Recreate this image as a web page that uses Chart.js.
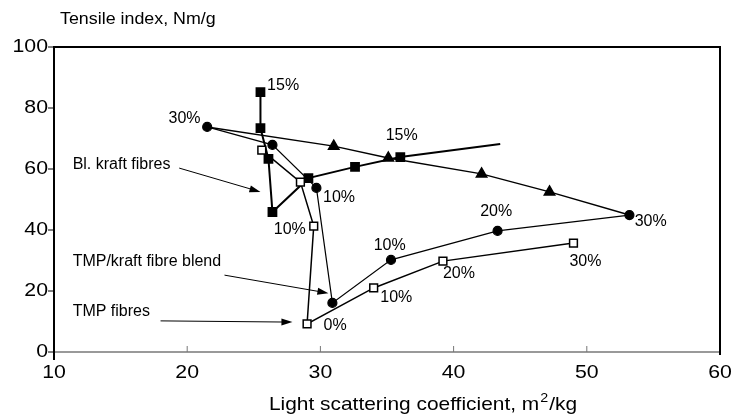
<!DOCTYPE html>
<html>
<head>
<meta charset="utf-8">
<script src="https://cdn.jsdelivr.net/npm/chart.js@4.4.1/dist/chart.umd.min.js"></script>
<style>
  html, body { margin: 0; padding: 0; background: #fff; }
  #wrap { width: 735px; height: 419px; }
</style>
</head>
<body>
<div id="wrap"><canvas id="chart" width="735" height="419"></canvas></div>
<script>
// axis ticks
const xTicks = [10, 20, 30, 40, 50, 60];
const yTicks = [0, 20, 40, 60, 80, 100];

// Bl. kraft fibres (filled squares), last point is the bare line end
const kraftX = [25.5, 25.5, 26.1, 26.4, 29.1, 32.6, 36.0, 43.5];
const kraftY = [85.2, 73.4, 63.3, 45.9, 57.0, 60.7, 63.9, 68.2];

// TMP fibres (open squares)
const tmpX = [49.0, 39.2, 34.0, 29.0, 29.5, 28.5, 25.6];
const tmpY = [35.7, 29.8, 21.0, 9.2, 41.3, 55.7, 66.2];

// TMP/kraft fibre blend (filled circles)
const blendX = [53.2, 43.3, 35.3, 30.9, 29.7, 26.4, 21.5];
const blendY = [44.9, 39.7, 30.2, 16.1, 53.8, 67.9, 73.8];

// line joining the two 30% points (triangles between)
const mixX = [21.5, 31.0, 35.1, 42.1, 47.2, 53.2];
const mixY = [73.8, 67.5, 63.6, 58.4, 52.5, 44.9];

// percentage labels
const pctText = ['15%', '30%', '15%', '10%', '10%', '10%', '20%', '30%', '30%', '20%', '10%', '0%'];
const pctX = [27.2, 19.8, 36.1, 31.4, 27.7, 35.2, 43.2, 54.8, 49.9, 40.4, 35.7, 31.1];
const pctY = [87.2, 76.4, 70.8, 50.5, 40.0, 34.8, 45.9, 42.6, 29.5, 25.6, 17.7, 8.5];

// series captions with arrows
const capText = ['Bl. kraft fibres', 'TMP/kraft fibre blend', 'TMP fibres'];
const capX = [11.4, 11.4, 11.4];
const capY = [61.3, 29.8, 13.4];
const arrowFromX = [19.4, 22.8, 18.0];
const arrowFromY = [60.3, 25.2, 10.2];
const arrowToX = [25.5, 30.6, 27.9];
const arrowToY = [52.5, 19.3, 9.8];

const zip = (xs, ys) => xs.map((x, i) => ({ x: x, y: ys[i] }));
const FONT = '"Liberation Sans", Arial, sans-serif';

// text drawn slightly wider than the font, like the scanned original
function wideText(ctx, text, x, y, size, stretch) {
    ctx.save();
    ctx.font = size + 'px ' + FONT;
    ctx.translate(x, y);
    ctx.scale(stretch, 1);
    ctx.fillText(text, 0, 0);
    ctx.restore();
}

const decorPlugin = {
    id: 'decor',
    afterDatasetsDraw(chart) {
        const ctx = chart.ctx;
        const xs = chart.scales.x, ys = chart.scales.y;
        const a = chart.chartArea;
        ctx.save();

        // frame: grey bottom axis, black left/top/right
        ctx.strokeStyle = '#777';
        ctx.lineWidth = 1.5;
        ctx.beginPath();
        ctx.moveTo(a.left, a.bottom);
        ctx.lineTo(a.right, a.bottom);
        ctx.stroke();
        ctx.strokeStyle = '#000';
        ctx.lineWidth = 2;
        ctx.beginPath();
        ctx.moveTo(a.left, a.bottom + 8);
        ctx.lineTo(a.left, a.top);
        ctx.lineTo(a.right, a.top);
        ctx.lineTo(a.right, a.bottom + 3);
        ctx.stroke();

        // ticks and tick labels
        ctx.fillStyle = '#000';
        ctx.textAlign = 'right';
        ctx.textBaseline = 'middle';
        ctx.lineWidth = 1;
        yTicks.forEach(v => {
            const py = ys.getPixelForValue(v);
            ctx.beginPath();
            ctx.moveTo(a.left - 6, py);
            ctx.lineTo(a.left, py);
            ctx.stroke();
            wideText(ctx, String(v), a.left - 6, py, 19, 1.12);
        });
        ctx.textAlign = 'center';
        xTicks.forEach(v => {
            const px = xs.getPixelForValue(v);
            if (v > xTicks[0] && v < xTicks[xTicks.length - 1]) {
                ctx.strokeStyle = '#777';
                ctx.beginPath();
                ctx.moveTo(px, a.bottom - 6);
                ctx.lineTo(px, a.bottom);
                ctx.stroke();
            }
            wideText(ctx, String(v), px, a.bottom + 21, 19, 1.12);
        });

        // axis titles
        ctx.textAlign = 'left';
        wideText(ctx, 'Tensile index, Nm/g', 60, 19, 17, 1.05);
        const st = 1.1;
        ctx.font = '19px ' + FONT;
        const t1 = 'Light scattering coefficient, m';
        const w1 = ctx.measureText(t1).width * st;
        const w3 = ctx.measureText('/kg').width * st;
        ctx.font = '13px ' + FONT;
        const w2 = ctx.measureText('2').width * st;
        const sx = 423 - (w1 + w2 + w3 + 2) / 2;
        wideText(ctx, t1, sx, 405, 19, st);
        wideText(ctx, '2', sx + w1 + 1, 398, 13, st);
        wideText(ctx, '/kg', sx + w1 + w2 + 2, 405, 19, st);

        // percentage labels
        ctx.font = '16px ' + FONT;
        ctx.textAlign = 'center';
        pctText.forEach((t, i) => {
            ctx.fillText(t, xs.getPixelForValue(pctX[i]), ys.getPixelForValue(pctY[i]));
        });

        // captions and arrows
        ctx.textAlign = 'left';
        capText.forEach((t, i) => {
            ctx.fillText(t, xs.getPixelForValue(capX[i]), ys.getPixelForValue(capY[i]));
            const x0 = xs.getPixelForValue(arrowFromX[i]), y0 = ys.getPixelForValue(arrowFromY[i]);
            const x1 = xs.getPixelForValue(arrowToX[i]), y1 = ys.getPixelForValue(arrowToY[i]);
            const ang = Math.atan2(y1 - y0, x1 - x0);
            ctx.strokeStyle = '#000';
            ctx.lineWidth = 1;
            ctx.beginPath();
            ctx.moveTo(x0, y0);
            ctx.lineTo(x1 - 8 * Math.cos(ang), y1 - 8 * Math.sin(ang));
            ctx.stroke();
            ctx.beginPath();
            ctx.moveTo(x1, y1);
            ctx.lineTo(x1 - 11 * Math.cos(ang) + 3.5 * Math.sin(ang), y1 - 11 * Math.sin(ang) - 3.5 * Math.cos(ang));
            ctx.lineTo(x1 - 11 * Math.cos(ang) - 3.5 * Math.sin(ang), y1 - 11 * Math.sin(ang) + 3.5 * Math.cos(ang));
            ctx.closePath();
            ctx.fill();
        });
        ctx.restore();
    }
};

new Chart(document.getElementById('chart'), {
    type: 'scatter',
    data: {
        datasets: [
            {
                label: '30% link',
                data: zip(mixX, mixY),
                showLine: true,
                borderColor: '#000',
                backgroundColor: '#000',
                borderWidth: 1.5,
                pointStyle: 'triangle',
                pointRadius: mixX.map((v, i) => (i === 0 || i === mixX.length - 1) ? 0 : 6),
                order: 4
            },
            {
                label: 'TMP/kraft fibre blend',
                data: zip(blendX, blendY),
                showLine: true,
                borderColor: '#000',
                backgroundColor: '#000',
                borderWidth: 1.2,
                pointStyle: 'circle',
                pointRadius: 4.5,
                order: 3
            },
            {
                label: 'Bl. kraft fibres',
                data: zip(kraftX, kraftY),
                showLine: true,
                borderColor: '#000',
                backgroundColor: '#000',
                borderWidth: 2,
                pointStyle: 'rect',
                pointRadius: kraftX.map((v, i) => i === kraftX.length - 1 ? 0 : 5.5),
                order: 2
            },
            {
                label: 'TMP fibres',
                data: zip(tmpX, tmpY),
                showLine: true,
                borderColor: '#000',
                backgroundColor: '#fff',
                borderWidth: 1.5,
                pointStyle: 'rect',
                pointRadius: 5.5,
                pointBorderWidth: 1.5,
                order: 1
            }
        ]
    },
    options: {
        responsive: false,
        animation: false,
        layout: { padding: { left: 54, right: 15, top: 47, bottom: 67 } },
        plugins: {
            legend: { display: false },
            tooltip: { enabled: false }
        },
        scales: {
            x: { type: 'linear', display: false, min: 10, max: 60 },
            y: { type: 'linear', display: false, min: 0, max: 100 }
        }
    },
    plugins: [decorPlugin]
});
</script>
</body>
</html>
